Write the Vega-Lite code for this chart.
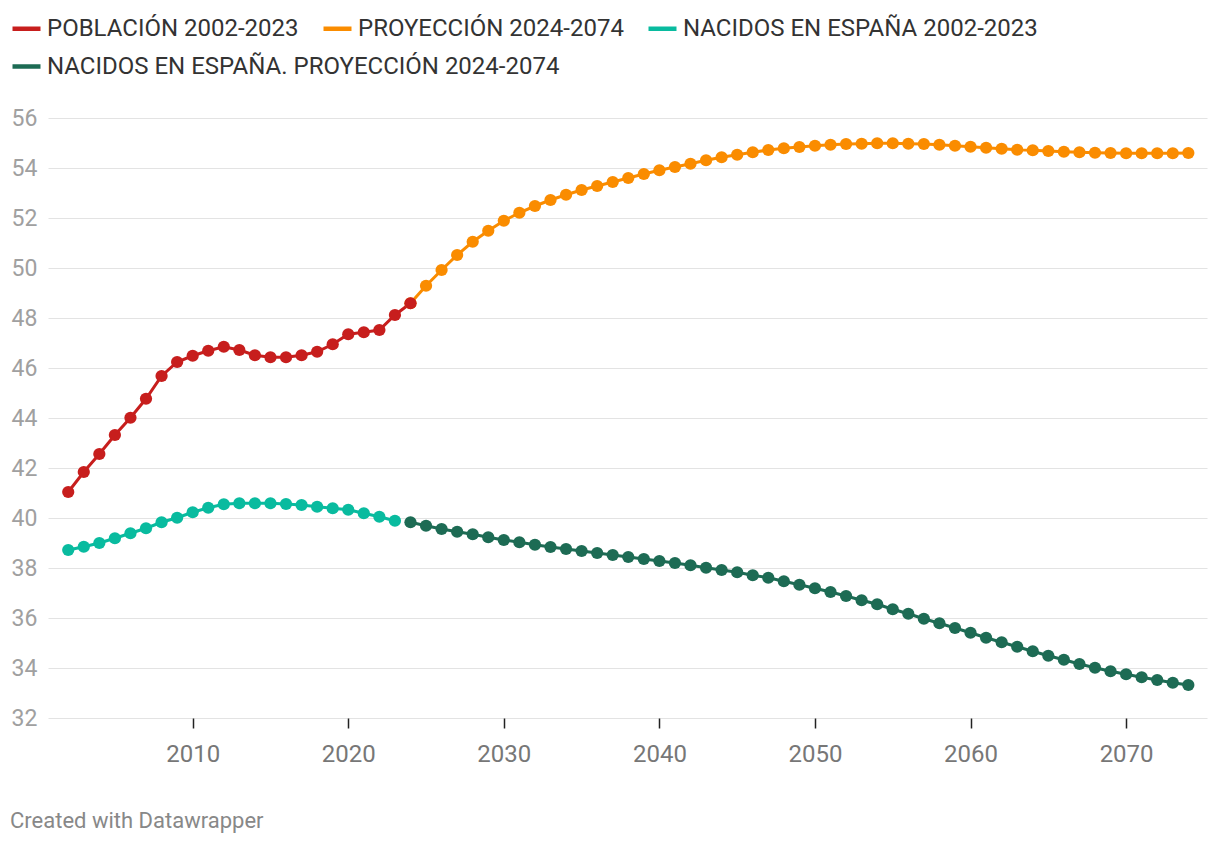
{
  "$schema": "https://vega.github.io/schema/vega-lite/v6.json",
  "width": 1159,
  "height": 600,
  "padding": {"left": 10, "top": 12, "right": 13, "bottom": 10},
  "background": "white",
  "title": {"text": "Created with Datawrapper", "orient": "bottom", "anchor": "start", "frame": "bounds", "font": "Roboto", "fontSize": 22, "fontWeight": "normal", "color": "#888888", "offset": 45},
  "config": {
    "view": {"stroke": null},
    "font": "Roboto",
    "legend": {
      "orient": "none", "direction": "horizontal", "title": null,
      "symbolType": "stroke", "symbolSize": 784, "symbolStrokeWidth": 4.5,
      "labelFont": "Roboto", "labelFontSize": 24, "labelColor": "#333333", "labelLimit": 700,
      "columnPadding": 15, "labelOffset": 4
    }
  },
  "datasets": {
    "series": [
      {"series": "PROYECCIÓN 2024-2074", "year": 2024, "value": 48.59},
      {"series": "PROYECCIÓN 2024-2074", "year": 2025, "value": 49.29},
      {"series": "PROYECCIÓN 2024-2074", "year": 2026, "value": 49.92},
      {"series": "PROYECCIÓN 2024-2074", "year": 2027, "value": 50.52},
      {"series": "PROYECCIÓN 2024-2074", "year": 2028, "value": 51.05},
      {"series": "PROYECCIÓN 2024-2074", "year": 2029, "value": 51.49},
      {"series": "PROYECCIÓN 2024-2074", "year": 2030, "value": 51.89},
      {"series": "PROYECCIÓN 2024-2074", "year": 2031, "value": 52.21},
      {"series": "PROYECCIÓN 2024-2074", "year": 2032, "value": 52.48},
      {"series": "PROYECCIÓN 2024-2074", "year": 2033, "value": 52.72},
      {"series": "PROYECCIÓN 2024-2074", "year": 2034, "value": 52.93},
      {"series": "PROYECCIÓN 2024-2074", "year": 2035, "value": 53.12},
      {"series": "PROYECCIÓN 2024-2074", "year": 2036, "value": 53.28},
      {"series": "PROYECCIÓN 2024-2074", "year": 2037, "value": 53.44},
      {"series": "PROYECCIÓN 2024-2074", "year": 2038, "value": 53.6},
      {"series": "PROYECCIÓN 2024-2074", "year": 2039, "value": 53.76},
      {"series": "PROYECCIÓN 2024-2074", "year": 2040, "value": 53.91},
      {"series": "PROYECCIÓN 2024-2074", "year": 2041, "value": 54.04},
      {"series": "PROYECCIÓN 2024-2074", "year": 2042, "value": 54.17},
      {"series": "PROYECCIÓN 2024-2074", "year": 2043, "value": 54.31},
      {"series": "PROYECCIÓN 2024-2074", "year": 2044, "value": 54.43},
      {"series": "PROYECCIÓN 2024-2074", "year": 2045, "value": 54.53},
      {"series": "PROYECCIÓN 2024-2074", "year": 2046, "value": 54.63},
      {"series": "PROYECCIÓN 2024-2074", "year": 2047, "value": 54.72},
      {"series": "PROYECCIÓN 2024-2074", "year": 2048, "value": 54.79},
      {"series": "PROYECCIÓN 2024-2074", "year": 2049, "value": 54.84},
      {"series": "PROYECCIÓN 2024-2074", "year": 2050, "value": 54.89},
      {"series": "PROYECCIÓN 2024-2074", "year": 2051, "value": 54.93},
      {"series": "PROYECCIÓN 2024-2074", "year": 2052, "value": 54.96},
      {"series": "PROYECCIÓN 2024-2074", "year": 2053, "value": 54.97},
      {"series": "PROYECCIÓN 2024-2074", "year": 2054, "value": 54.99},
      {"series": "PROYECCIÓN 2024-2074", "year": 2055, "value": 54.99},
      {"series": "PROYECCIÓN 2024-2074", "year": 2056, "value": 54.97},
      {"series": "PROYECCIÓN 2024-2074", "year": 2057, "value": 54.96},
      {"series": "PROYECCIÓN 2024-2074", "year": 2058, "value": 54.93},
      {"series": "PROYECCIÓN 2024-2074", "year": 2059, "value": 54.89},
      {"series": "PROYECCIÓN 2024-2074", "year": 2060, "value": 54.85},
      {"series": "PROYECCIÓN 2024-2074", "year": 2061, "value": 54.81},
      {"series": "PROYECCIÓN 2024-2074", "year": 2062, "value": 54.77},
      {"series": "PROYECCIÓN 2024-2074", "year": 2063, "value": 54.73},
      {"series": "PROYECCIÓN 2024-2074", "year": 2064, "value": 54.71},
      {"series": "PROYECCIÓN 2024-2074", "year": 2065, "value": 54.68},
      {"series": "PROYECCIÓN 2024-2074", "year": 2066, "value": 54.65},
      {"series": "PROYECCIÓN 2024-2074", "year": 2067, "value": 54.63},
      {"series": "PROYECCIÓN 2024-2074", "year": 2068, "value": 54.61},
      {"series": "PROYECCIÓN 2024-2074", "year": 2069, "value": 54.6},
      {"series": "PROYECCIÓN 2024-2074", "year": 2070, "value": 54.59},
      {"series": "PROYECCIÓN 2024-2074", "year": 2071, "value": 54.59},
      {"series": "PROYECCIÓN 2024-2074", "year": 2072, "value": 54.59},
      {"series": "PROYECCIÓN 2024-2074", "year": 2073, "value": 54.59},
      {"series": "PROYECCIÓN 2024-2074", "year": 2074, "value": 54.6},
      {"series": "NACIDOS EN ESPAÑA. PROYECCIÓN 2024-2074", "year": 2024, "value": 39.83},
      {"series": "NACIDOS EN ESPAÑA. PROYECCIÓN 2024-2074", "year": 2025, "value": 39.69},
      {"series": "NACIDOS EN ESPAÑA. PROYECCIÓN 2024-2074", "year": 2026, "value": 39.56},
      {"series": "NACIDOS EN ESPAÑA. PROYECCIÓN 2024-2074", "year": 2027, "value": 39.45},
      {"series": "NACIDOS EN ESPAÑA. PROYECCIÓN 2024-2074", "year": 2028, "value": 39.35},
      {"series": "NACIDOS EN ESPAÑA. PROYECCIÓN 2024-2074", "year": 2029, "value": 39.23},
      {"series": "NACIDOS EN ESPAÑA. PROYECCIÓN 2024-2074", "year": 2030, "value": 39.12},
      {"series": "NACIDOS EN ESPAÑA. PROYECCIÓN 2024-2074", "year": 2031, "value": 39.03},
      {"series": "NACIDOS EN ESPAÑA. PROYECCIÓN 2024-2074", "year": 2032, "value": 38.93},
      {"series": "NACIDOS EN ESPAÑA. PROYECCIÓN 2024-2074", "year": 2033, "value": 38.84},
      {"series": "NACIDOS EN ESPAÑA. PROYECCIÓN 2024-2074", "year": 2034, "value": 38.76},
      {"series": "NACIDOS EN ESPAÑA. PROYECCIÓN 2024-2074", "year": 2035, "value": 38.68},
      {"series": "NACIDOS EN ESPAÑA. PROYECCIÓN 2024-2074", "year": 2036, "value": 38.6},
      {"series": "NACIDOS EN ESPAÑA. PROYECCIÓN 2024-2074", "year": 2037, "value": 38.52},
      {"series": "NACIDOS EN ESPAÑA. PROYECCIÓN 2024-2074", "year": 2038, "value": 38.44},
      {"series": "NACIDOS EN ESPAÑA. PROYECCIÓN 2024-2074", "year": 2039, "value": 38.36},
      {"series": "NACIDOS EN ESPAÑA. PROYECCIÓN 2024-2074", "year": 2040, "value": 38.28},
      {"series": "NACIDOS EN ESPAÑA. PROYECCIÓN 2024-2074", "year": 2041, "value": 38.2},
      {"series": "NACIDOS EN ESPAÑA. PROYECCIÓN 2024-2074", "year": 2042, "value": 38.11},
      {"series": "NACIDOS EN ESPAÑA. PROYECCIÓN 2024-2074", "year": 2043, "value": 38.01},
      {"series": "NACIDOS EN ESPAÑA. PROYECCIÓN 2024-2074", "year": 2044, "value": 37.92},
      {"series": "NACIDOS EN ESPAÑA. PROYECCIÓN 2024-2074", "year": 2045, "value": 37.83},
      {"series": "NACIDOS EN ESPAÑA. PROYECCIÓN 2024-2074", "year": 2046, "value": 37.71},
      {"series": "NACIDOS EN ESPAÑA. PROYECCIÓN 2024-2074", "year": 2047, "value": 37.61},
      {"series": "NACIDOS EN ESPAÑA. PROYECCIÓN 2024-2074", "year": 2048, "value": 37.47},
      {"series": "NACIDOS EN ESPAÑA. PROYECCIÓN 2024-2074", "year": 2049, "value": 37.33},
      {"series": "NACIDOS EN ESPAÑA. PROYECCIÓN 2024-2074", "year": 2050, "value": 37.19},
      {"series": "NACIDOS EN ESPAÑA. PROYECCIÓN 2024-2074", "year": 2051, "value": 37.04},
      {"series": "NACIDOS EN ESPAÑA. PROYECCIÓN 2024-2074", "year": 2052, "value": 36.88},
      {"series": "NACIDOS EN ESPAÑA. PROYECCIÓN 2024-2074", "year": 2053, "value": 36.71},
      {"series": "NACIDOS EN ESPAÑA. PROYECCIÓN 2024-2074", "year": 2054, "value": 36.55},
      {"series": "NACIDOS EN ESPAÑA. PROYECCIÓN 2024-2074", "year": 2055, "value": 36.35},
      {"series": "NACIDOS EN ESPAÑA. PROYECCIÓN 2024-2074", "year": 2056, "value": 36.17},
      {"series": "NACIDOS EN ESPAÑA. PROYECCIÓN 2024-2074", "year": 2057, "value": 35.97},
      {"series": "NACIDOS EN ESPAÑA. PROYECCIÓN 2024-2074", "year": 2058, "value": 35.79},
      {"series": "NACIDOS EN ESPAÑA. PROYECCIÓN 2024-2074", "year": 2059, "value": 35.6},
      {"series": "NACIDOS EN ESPAÑA. PROYECCIÓN 2024-2074", "year": 2060, "value": 35.41},
      {"series": "NACIDOS EN ESPAÑA. PROYECCIÓN 2024-2074", "year": 2061, "value": 35.21},
      {"series": "NACIDOS EN ESPAÑA. PROYECCIÓN 2024-2074", "year": 2062, "value": 35.03},
      {"series": "NACIDOS EN ESPAÑA. PROYECCIÓN 2024-2074", "year": 2063, "value": 34.85},
      {"series": "NACIDOS EN ESPAÑA. PROYECCIÓN 2024-2074", "year": 2064, "value": 34.67},
      {"series": "NACIDOS EN ESPAÑA. PROYECCIÓN 2024-2074", "year": 2065, "value": 34.49},
      {"series": "NACIDOS EN ESPAÑA. PROYECCIÓN 2024-2074", "year": 2066, "value": 34.33},
      {"series": "NACIDOS EN ESPAÑA. PROYECCIÓN 2024-2074", "year": 2067, "value": 34.16},
      {"series": "NACIDOS EN ESPAÑA. PROYECCIÓN 2024-2074", "year": 2068, "value": 34.01},
      {"series": "NACIDOS EN ESPAÑA. PROYECCIÓN 2024-2074", "year": 2069, "value": 33.87},
      {"series": "NACIDOS EN ESPAÑA. PROYECCIÓN 2024-2074", "year": 2070, "value": 33.75},
      {"series": "NACIDOS EN ESPAÑA. PROYECCIÓN 2024-2074", "year": 2071, "value": 33.63},
      {"series": "NACIDOS EN ESPAÑA. PROYECCIÓN 2024-2074", "year": 2072, "value": 33.52},
      {"series": "NACIDOS EN ESPAÑA. PROYECCIÓN 2024-2074", "year": 2073, "value": 33.41},
      {"series": "NACIDOS EN ESPAÑA. PROYECCIÓN 2024-2074", "year": 2074, "value": 33.32},
      {"series": "POBLACIÓN 2002-2023", "year": 2002, "value": 41.04},
      {"series": "POBLACIÓN 2002-2023", "year": 2003, "value": 41.84},
      {"series": "POBLACIÓN 2002-2023", "year": 2004, "value": 42.56},
      {"series": "POBLACIÓN 2002-2023", "year": 2005, "value": 43.32},
      {"series": "POBLACIÓN 2002-2023", "year": 2006, "value": 44.01},
      {"series": "POBLACIÓN 2002-2023", "year": 2007, "value": 44.77},
      {"series": "POBLACIÓN 2002-2023", "year": 2008, "value": 45.68},
      {"series": "POBLACIÓN 2002-2023", "year": 2009, "value": 46.24},
      {"series": "POBLACIÓN 2002-2023", "year": 2010, "value": 46.49},
      {"series": "POBLACIÓN 2002-2023", "year": 2011, "value": 46.69},
      {"series": "POBLACIÓN 2002-2023", "year": 2012, "value": 46.85},
      {"series": "POBLACIÓN 2002-2023", "year": 2013, "value": 46.72},
      {"series": "POBLACIÓN 2002-2023", "year": 2014, "value": 46.51},
      {"series": "POBLACIÓN 2002-2023", "year": 2015, "value": 46.43},
      {"series": "POBLACIÓN 2002-2023", "year": 2016, "value": 46.43},
      {"series": "POBLACIÓN 2002-2023", "year": 2017, "value": 46.51},
      {"series": "POBLACIÓN 2002-2023", "year": 2018, "value": 46.65},
      {"series": "POBLACIÓN 2002-2023", "year": 2019, "value": 46.95},
      {"series": "POBLACIÓN 2002-2023", "year": 2020, "value": 47.35},
      {"series": "POBLACIÓN 2002-2023", "year": 2021, "value": 47.43},
      {"series": "POBLACIÓN 2002-2023", "year": 2022, "value": 47.52},
      {"series": "POBLACIÓN 2002-2023", "year": 2023, "value": 48.12},
      {"series": "POBLACIÓN 2002-2023", "year": 2024, "value": 48.59},
      {"series": "NACIDOS EN ESPAÑA 2002-2023", "year": 2002, "value": 38.72},
      {"series": "NACIDOS EN ESPAÑA 2002-2023", "year": 2003, "value": 38.85},
      {"series": "NACIDOS EN ESPAÑA 2002-2023", "year": 2004, "value": 39.0},
      {"series": "NACIDOS EN ESPAÑA 2002-2023", "year": 2005, "value": 39.19},
      {"series": "NACIDOS EN ESPAÑA 2002-2023", "year": 2006, "value": 39.39},
      {"series": "NACIDOS EN ESPAÑA 2002-2023", "year": 2007, "value": 39.59},
      {"series": "NACIDOS EN ESPAÑA 2002-2023", "year": 2008, "value": 39.83},
      {"series": "NACIDOS EN ESPAÑA 2002-2023", "year": 2009, "value": 40.01},
      {"series": "NACIDOS EN ESPAÑA 2002-2023", "year": 2010, "value": 40.23},
      {"series": "NACIDOS EN ESPAÑA 2002-2023", "year": 2011, "value": 40.41},
      {"series": "NACIDOS EN ESPAÑA 2002-2023", "year": 2012, "value": 40.55},
      {"series": "NACIDOS EN ESPAÑA 2002-2023", "year": 2013, "value": 40.59},
      {"series": "NACIDOS EN ESPAÑA 2002-2023", "year": 2014, "value": 40.59},
      {"series": "NACIDOS EN ESPAÑA 2002-2023", "year": 2015, "value": 40.59},
      {"series": "NACIDOS EN ESPAÑA 2002-2023", "year": 2016, "value": 40.56},
      {"series": "NACIDOS EN ESPAÑA 2002-2023", "year": 2017, "value": 40.52},
      {"series": "NACIDOS EN ESPAÑA 2002-2023", "year": 2018, "value": 40.45},
      {"series": "NACIDOS EN ESPAÑA 2002-2023", "year": 2019, "value": 40.39},
      {"series": "NACIDOS EN ESPAÑA 2002-2023", "year": 2020, "value": 40.33},
      {"series": "NACIDOS EN ESPAÑA 2002-2023", "year": 2021, "value": 40.19},
      {"series": "NACIDOS EN ESPAÑA 2002-2023", "year": 2022, "value": 40.05},
      {"series": "NACIDOS EN ESPAÑA 2002-2023", "year": 2023, "value": 39.89}
    ]
  },
  "data": {"name": "series"},
  "encoding": {
    "x": {
      "field": "year", "type": "quantitative",
      "scale": {"domain": [2000.7, 2075.2], "nice": false, "zero": false},
      "axis": {"title": null, "values": [2010, 2020, 2030, 2040, 2050, 2060, 2070], "format": "d", "grid": false, "domain": false, "ticks": true, "tickSize": 10, "tickColor": "#222222", "tickWidth": 1.5, "labelPadding": 14, "labelFont": "Roboto", "labelFontSize": 24, "labelColor": "#777777"}
    },
    "y": {
      "field": "value", "type": "quantitative",
      "scale": {"domain": [32, 56], "nice": false, "zero": false},
      "axis": {"title": null, "values": [32, 34, 36, 38, 40, 42, 44, 46, 48, 50, 52, 54, 56], "grid": true, "gridColor": "#e3e3e3", "gridWidth": 1, "domain": false, "ticks": false, "labelAlign": "left", "labelBaseline": "middle", "labelPadding": 37, "labelFont": "Roboto", "labelFontSize": 23, "labelColor": "#a0a0a0"}
    }
  },
  "layer": [
    {
      "transform": [{"filter": {"field": "series", "oneOf": ["POBLACIÓN 2002-2023", "PROYECCIÓN 2024-2074", "NACIDOS EN ESPAÑA 2002-2023"]}}],
      "encoding": {
        "color": {
          "field": "series", "type": "nominal",
          "scale": {
            "domain": ["POBLACIÓN 2002-2023", "PROYECCIÓN 2024-2074", "NACIDOS EN ESPAÑA 2002-2023"],
            "range": ["#c71e1d", "#fa8c00", "#09bb9f"]
          },
          "legend": {"legendX": -38, "legendY": -106}
        }
      },
      "layer": [
        {"mark": {"type": "line", "strokeWidth": 3}},
        {"mark": {"type": "point", "filled": true, "opacity": 1, "size": 150}}
      ]
    },
    {
      "transform": [{"filter": {"field": "series", "equal": "NACIDOS EN ESPAÑA. PROYECCIÓN 2024-2074"}}],
      "encoding": {
        "color": {
          "field": "series", "type": "nominal",
          "scale": {
            "domain": ["NACIDOS EN ESPAÑA. PROYECCIÓN 2024-2074"],
            "range": ["#1d6b54"]
          },
          "legend": {"legendX": -38, "legendY": -68}
        }
      },
      "layer": [
        {"mark": {"type": "line", "strokeWidth": 3}},
        {"mark": {"type": "point", "filled": true, "opacity": 1, "size": 150}}
      ]
    }
  ],
  "resolve": {"scale": {"color": "independent"}}
}
